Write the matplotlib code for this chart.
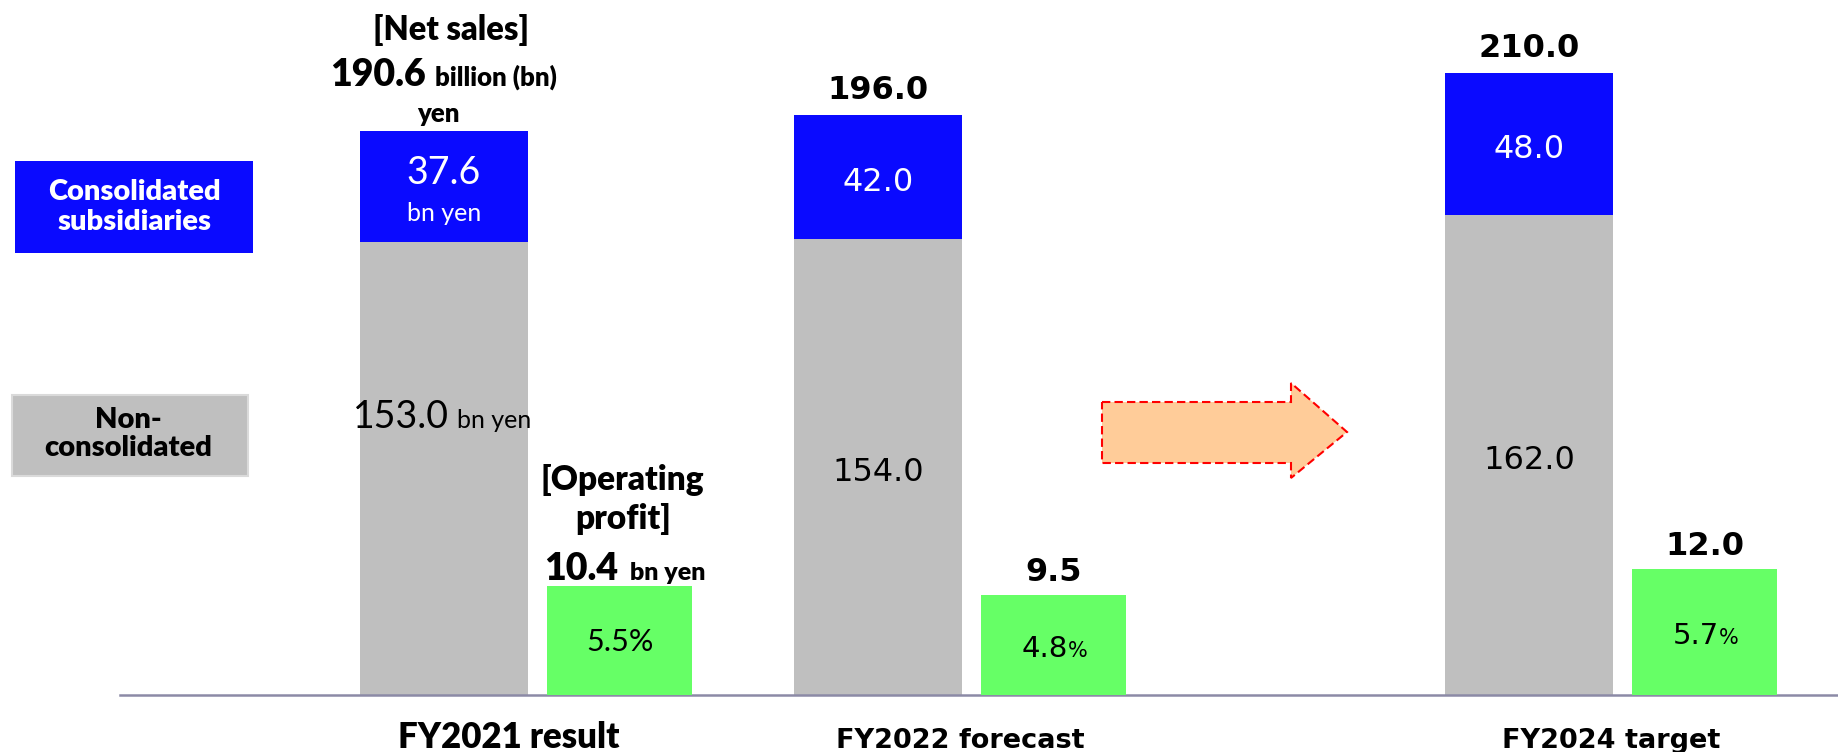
import numpy as np
import matplotlib
matplotlib.use("Agg")
import matplotlib.pyplot as plt
from matplotlib.patches import Rectangle, Polygon

# ── data ─────────────────────────────────────────────────────────────────────
categories = ["FY2021 result", "FY2022 forecast", "FY2024 target"]
non_consolidated = [153.0, 154.0, 162.0]      # bn yen
consolidated_subs = [37.6, 42.0, 48.0]        # bn yen
net_sales = [190.6, 196.0, 210.0]             # bn yen
operating_profit = [10.4, 9.5, 12.0]          # bn yen
op_margin = [5.5, 4.8, 5.7]                   # %

# group positions (FY2023 left out, so a wider gap before FY2024)
group_x = np.array([0.0, 1.0, 2.5])
label_shift = [0.15, 0.19, 0.19]

GRAY = "#BFBFBF"
BLUE = "#0A0AFF"
GREEN = "#66FF66"
AXIS = "#8C8AA6"
CALIBRI_LIKE = "Lato"

plt.rcParams["font.family"] = ["DejaVu Sans"]

W, H = 1838, 752
fig = plt.figure(figsize=(W / 100, H / 100), dpi=100)


def fx(px):
    return px / W


def fy(py):
    return 1 - py / H


ax = fig.add_axes([fx(120), fy(695), 1 - fx(120), 695 / H])
ax.set_xlim(-0.7465, 3.212)
ax.set_ylim(0, 695 / 2.96)
ax2 = ax.twinx()
ax2.set_ylim(0, 695 / 10.5)

for a in (ax, ax2):
    for s in a.spines.values():
        s.set_visible(False)
    a.set_xticks([])
    a.set_yticks([])
ax.spines["bottom"].set_visible(True)
ax.spines["bottom"].set_color(AXIS)
ax.spines["bottom"].set_linewidth(1.8)
ax.spines["bottom"].set_zorder(5)

# ── bars ─────────────────────────────────────────────────────────────────────
gray_w, green_off, green_w = 0.387, 0.405, 0.334
ax.bar(group_x, non_consolidated, width=gray_w, color=GRAY)
ax.bar(group_x, consolidated_subs, width=gray_w, bottom=non_consolidated, color=BLUE)
green_x = group_x + green_off
ax2.bar(green_x, operating_profit, width=green_w, color=GREEN)


def label(axis, x, y, s, dx, dy, size, ha="center", va="baseline", **kw):
    axis.annotate(s, (x, y), xytext=(dx, dy), textcoords="offset pixels",
                  ha=ha, va=va, fontsize=size, annotation_clip=False, **kw)


# ── FY2021 result (units spelled out) ────────────────────────────────────────
x0, xg0 = group_x[0], green_x[0]
cal = dict(family=CALIBRI_LIKE)
calb = dict(family=CALIBRI_LIKE, weight="heavy")

label(ax, x0, net_sales[0], "[Net sales]", 7, 91, 23.5, **calb)
label(ax, x0, net_sales[0], f"{net_sales[0]:.1f}", -18, 45, 27, ha="right", **calb)
label(ax, x0, net_sales[0], "billion (bn)", -9, 45, 18.5, ha="left", **calb)
label(ax, x0, net_sales[0], "yen", -6, 9, 18.5, **calb)

blue_mid0 = non_consolidated[0] + consolidated_subs[0] / 2
label(ax, x0, blue_mid0, f"{consolidated_subs[0]:.1f}", 0, 2, 27, color="white", **cal)
label(ax, x0, blue_mid0, "bn yen", 0, -35, 18, color="white", **cal)

label(ax, x0, non_consolidated[0], f"{non_consolidated[0]:.1f}", 5, -186, 27, ha="right", **cal)
label(ax, x0, non_consolidated[0], "bn yen", 13, -186, 18, ha="left", **cal)

label(ax2, xg0, operating_profit[0], "[Operating", 3, 96, 24, **calb)
label(ax2, xg0, operating_profit[0], "profit]", 3, 57, 24, **calb)
label(ax2, xg0, operating_profit[0], f"{operating_profit[0]:.1f}", -2, 6, 27, ha="right", **calb)
label(ax2, xg0, operating_profit[0], "bn yen", 10, 6, 18, ha="left", **calb)
label(ax2, xg0, operating_profit[0] / 2, f"{op_margin[0]:.1f}%", 0, -11, 22, **cal)

label(ax, x0 + label_shift[0], 0, categories[0], 0, -53, 25, **calb)

# ── FY2022 forecast / FY2024 target ──────────────────────────────────────────
for i in (1, 2):
    x, xg = group_x[i], green_x[i]
    non, subs = non_consolidated[i], consolidated_subs[i]
    label(ax, x, net_sales[i], f"{net_sales[i]:.1f}", 0, 16, 23, weight="bold")
    label(ax, x, non + subs / 2, f"{subs:.1f}", 0, -14, 23, color="white")
    label(ax, x, non / 2, f"{non:.1f}", 0, -14, 23)
    label(ax2, xg, operating_profit[i], f"{operating_profit[i]:.1f}", 0, 14, 23, weight="bold")
    label(ax2, xg, operating_profit[i] / 2, f"{op_margin[i]:.1f}", 14, -12, 21, ha="right")
    label(ax2, xg, operating_profit[i] / 2, "%", 14, -12, 15, ha="left")
    label(ax, x + label_shift[i], 0, categories[i], 0, -53, 19.5, weight="bold")

# ── legend boxes on the left ─────────────────────────────────────────────────
fig.add_artist(Rectangle((fx(15), fy(253)), 238 / W, 92 / H,
                         transform=fig.transFigure, facecolor=BLUE, edgecolor="none"))
fig.text(fx(134), fy(207), "Consolidated\nsubsidiaries", ha="center", va="center",
         color="white", fontsize=21, linespacing=1.15, **calb)
fig.add_artist(Rectangle((fx(12), fy(476)), 236 / W, 81 / H,
                         transform=fig.transFigure, facecolor=GRAY,
                         edgecolor="#DADADA", linewidth=1.5))
fig.text(fx(128), fy(434), "Non-\nconsolidated", ha="center", va="center",
         color="black", fontsize=21, linespacing=1.1, **calb)

# ── dashed arrow between FY2022 and FY2024 ───────────────────────────────────
arrow_px = [(1102, 402), (1291, 402), (1291, 383), (1347, 432),
            (1291, 478), (1291, 463), (1102, 463)]
fig.add_artist(Polygon([(fx(px), fy(py)) for px, py in arrow_px], closed=True,
                       transform=fig.transFigure, facecolor="#FFCC99",
                       edgecolor="red", linewidth=1.5, linestyle=(0, (4, 2))))

fig.savefig("out.png", dpi=100, facecolor="white")
